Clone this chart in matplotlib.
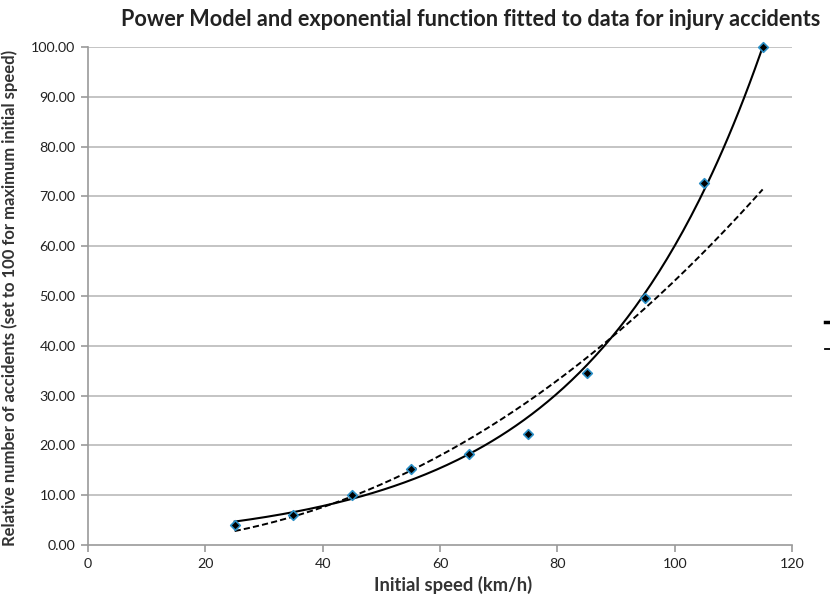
import numpy as np
import matplotlib
matplotlib.use("Agg")
import matplotlib.pyplot as plt
from matplotlib.lines import Line2D

# data
speed = [25, 35, 45, 55, 65, 75, 85, 95, 105, 115]
accidents = [4.0, 6.0, 10.0, 15.2, 18.3, 22.3, 34.5, 49.5, 72.7, 100.0]

x_ticks = [0, 20, 40, 60, 80, 100, 120]
y_ticks = [0, 10, 20, 30, 40, 50, 60, 70, 80, 90, 100]

# curve ends: (start, end) values of each trend line
exp_ends = (4.7, 100.0)    # solid, exponential
pow_ends = (2.8, 71.4)     # dashed, power model

plt.rcParams['font.family'] = ['Lato', 'DejaVu Sans']

x0, x1 = speed[0], speed[-1]
b_exp = np.log(exp_ends[1] / exp_ends[0]) / (x1 - x0)
a_exp = exp_ends[0] / np.exp(b_exp * x0)
b_pow = np.log(pow_ends[1] / pow_ends[0]) / np.log(x1 / x0)
a_pow = pow_ends[0] / x0 ** b_pow

xs = np.linspace(x0, x1, 200)
y_exp = a_exp * np.exp(b_exp * xs)
y_pow = a_pow * xs ** b_pow

fig = plt.figure(figsize=(8.3, 5.98), dpi=100)
ax = fig.add_axes([88 / 830, 1 - 545 / 598, 704 / 830, 498 / 598])

grid_col = '#c4c4c4'
for v in y_ticks[1:]:
    ax.axhline(v, color=grid_col, lw=1.4, zorder=0)

ax.plot(xs, y_exp, color='black', lw=1.5, zorder=3)
ax.plot(xs, y_pow, color='black', lw=1.4, ls=(0, (3.2, 1.6)), zorder=3)
ax.scatter(speed, accidents, marker='D', s=24, facecolor='black',
           edgecolor='#2a8fc6', linewidth=1.2, zorder=4, clip_on=False)

ax.set_xlim(0, 120)
ax.set_ylim(0, 100)
ax.set_xticks(x_ticks)
ax.set_yticks(y_ticks)
ax.set_yticklabels([f"{v:.2f}" for v in y_ticks])

for side in ['top', 'right']:
    ax.spines[side].set_visible(False)
for side in ['left', 'bottom']:
    ax.spines[side].set_color('#9a9a9a')
    ax.spines[side].set_linewidth(1.2)
ax.tick_params(axis='both', direction='out', length=5, width=1.2,
               color='#9a9a9a', labelsize=10.3, labelcolor='#222222')
ax.tick_params(axis='y', pad=4)
ax.tick_params(axis='x', pad=4)

ax.set_xlabel("Initial speed (km/h)", fontsize=13.2, fontweight='bold',
              color='#333333')
ax.xaxis.set_label_coords((453 - 88) / 704, -0.062)
ax.set_ylabel("Relative number of accidents (set to 100 for maximum initial speed)",
              fontsize=12, fontweight='bold', color='#333333')
ax.yaxis.set_label_coords(-(88 - 18) / 704, 0.497)

fig.text(471 / 830, 1 - 20 / 598,
         "Power Model and exponential function fitted to data for injury accidents",
         ha='center', va='center', fontsize=15.6, fontweight='bold',
         color='#222222')

# legend keys, cut off at the right edge in the original
fig.add_artist(Line2D([825 / 830, 1.0], [1 - 322 / 598] * 2,
                      transform=fig.transFigure, color='black', lw=2.5))
fig.add_artist(Line2D([825 / 830, 1.0], [1 - 349 / 598] * 2,
                      transform=fig.transFigure, color='black', lw=1.3))

fig.savefig("out.png", dpi=100)
